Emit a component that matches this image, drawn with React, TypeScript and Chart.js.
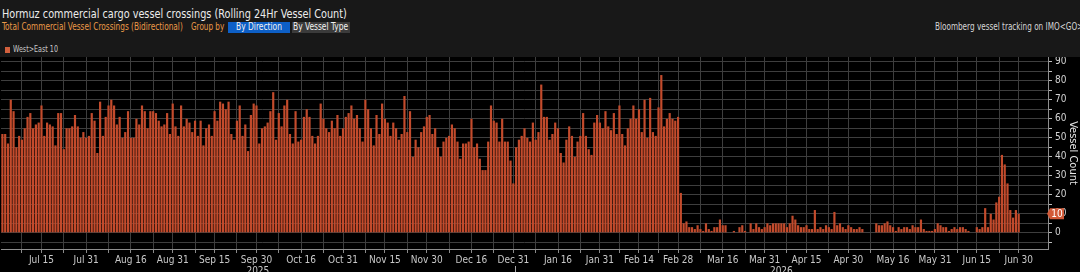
import React, { useEffect, useLayoutEffect, useRef } from 'react';
import { Chart, registerables } from 'chart.js';

Chart.register(...registerables);

const FONT = '"Liberation Sans Narrow", "Arial Narrow", "DejaVu Sans Condensed", "Liberation Sans", Arial, sans-serif';

// Rolling 24h West>East commercial vessel crossings, daily, 1 Jul 2025 – 30 Jun 2026
const firstDay = [2025, 6, 1];
const emptyDaysAfter = 10;

const jul2025 = [52,52,47,70,64,45,51,49,55,61,63,55,57,58,67,51,58,57,56,46,63,63,44,55,55,56,62,56,50,53,50];
const aug2025 = [51,63,59,42,69,51,61,67,70,67,57,61,50,53,64,50,50,60,57,67,64,55,64,64,63,59,56,57,63,52,68];
const sep2025 = [56,51,67,56,60,58,53,59,51,59,46,55,57,51,64,59,69,68,65,69,52,49,59,67,51,57,43,62,68,67];
const oct2025 = [47,55,56,58,64,74,49,63,56,67,70,52,47,64,48,49,61,65,61,51,47,51,68,60,55,53,59,55,62,51,55];
const nov2025 = [61,63,67,60,62,55,48,70,65,55,46,62,52,68,60,58,51,58,55,49,52,72,53,64,40,49,45,53,56,61];
const dec2025 = [62,52,55,45,40,48,50,51,57,55,48,39,47,47,48,60,45,47,39,33,33,48,67,59,58,48,60,48,48,38,26];
const jan2026 = [45,49,51,55,50,48,58,49,53,78,61,61,49,52,58,55,42,37,49,56,51,40,48,51,63,51,44,41,58,62,58];
const feb2026 = [55,64,56,54,63,52,67,52,46,55,60,67,60,65,53,70,50,71,53,51,66,83,56,60,63,60,59,61];
const mar2026 = [21,5,6,3,3,2,4,2,1,5,2,1,3,3,7,4,4,0,0,1,0,3,4,1,0,5,2,5,3,2,3];
const apr2026 = [5,4,5,5,5,5,5,3,5,9,7,4,3,3,4,2,2,12,2,3,2,4,3,2,11,4,5,3,2,4];
const may2026 = [3,2,2,3,2,0,0,0,0,5,4,4,5,6,4,3,1,3,2,3,3,2,4,3,3,7,2,1,1,1,2];
const jun2026 = [5,4,3,3,1,2,3,2,3,3,2,1,0,0,3,2,3,13,3,10,7,16,19,41,36,26,12,8,12,10];

const tickDates = [
  '2025-07-15','2025-07-31','2025-08-16','2025-08-31','2025-09-15','2025-09-30',
  '2025-10-16','2025-10-31','2025-11-15','2025-11-30','2025-12-16','2025-12-31',
  '2026-01-16','2026-01-31','2026-02-14','2026-02-28','2026-03-16','2026-03-31',
  '2026-04-15','2026-04-30','2026-05-16','2026-05-31','2026-06-15','2026-06-30',
];
const yearLabels = ['2025', '2026'];
const yearStart2026 = '2026-01-01';
const seriesName = 'West>East';

const MONTHS = ['Jan','Feb','Mar','Apr','May','Jun','Jul','Aug','Sep','Oct','Nov','Dec'];

const values: (number | null)[] = [
  ...jul2025, ...aug2025, ...sep2025, ...oct2025, ...nov2025, ...dec2025,
  ...jan2026, ...feb2026, ...mar2026, ...apr2026, ...may2026, ...jun2026,
];
const lastValue = values[values.length - 1] as number;
const totalDays = values.length + emptyDaysAfter;
const dayKeys: string[] = [];
const dayNames: string[] = [];
for (let i = 0; i < totalDays; i++) {
  const d = new Date(Date.UTC(firstDay[0], firstDay[1], firstDay[2]) + i * 86400000);
  dayKeys.push(d.toISOString().slice(0, 10));
  dayNames.push(MONTHS[d.getUTCMonth()] + ' ' + d.getUTCDate());
}
const data: (number | null)[] = [...values, ...Array(emptyDaysAfter).fill(null)];

const tickIdx = tickDates.map((t) => dayKeys.indexOf(t));
const labelIdx = new Set(tickIdx);
const gridIdx = new Set<number>(tickIdx);
gridIdx.add(tickIdx[0] - 7);
for (let k = 0; k < tickIdx.length - 1; k++) gridIdx.add(Math.round((tickIdx[k] + tickIdx[k + 1]) / 2));

const GRID = '#3e3e3e';
const AXIS = '#8e8e8e';
const BAR = '#c34b2c';

const isTen = (v: number) => v >= 0 && Math.abs(v / 10 - Math.round(v / 10)) < 1e-6;

const overlayPlugin = {
  id: 'overlay',
  afterDraw(chart: any) {
    const { ctx } = chart;
    const x = chart.scales.x;
    const y = chart.scales.y;
    const step = x.getPixelForValue(1) - x.getPixelForValue(0);
    const janIdx = dayKeys.indexOf(yearStart2026);
    const boundary = x.getPixelForValue(janIdx) - step / 2;
    ctx.save();
    ctx.strokeStyle = '#a8a8a8';
    ctx.lineWidth = 1;
    ctx.beginPath();
    ctx.moveTo(Math.round(boundary) + 0.5, 266);
    ctx.lineTo(Math.round(boundary) + 0.5, 272);
    ctx.stroke();
    ctx.font = `10px ${FONT}`;
    ctx.fillStyle = '#c8c8c8';
    ctx.textAlign = 'center';
    ctx.textBaseline = 'top';
    ctx.fillText(yearLabels[0], (x.left + boundary) / 2, 266.5);
    ctx.fillText(yearLabels[1], (boundary + x.right) / 2, 266.5);

    const py = y.getPixelForValue(lastValue);
    const l = y.left - 1;
    ctx.fillStyle = '#d25a38';
    ctx.beginPath();
    ctx.moveTo(l, py);
    ctx.lineTo(l + 3, py - 5.5);
    ctx.lineTo(l + 17, py - 5.5);
    ctx.lineTo(l + 17, py + 5.5);
    ctx.lineTo(l + 3, py + 5.5);
    ctx.closePath();
    ctx.fill();
    ctx.fillStyle = '#ffffff';
    ctx.font = `10px ${FONT}`;
    ctx.textBaseline = 'middle';
    ctx.fillText(String(lastValue), l + 10, py + 0.5);
    ctx.restore();
  },
};

function Fit({ w, style, children }: { w: number; style: React.CSSProperties; children: React.ReactNode }) {
  const ref = useRef<HTMLSpanElement>(null);
  useLayoutEffect(() => {
    const el = ref.current;
    if (!el) return;
    el.style.transform = '';
    const actual = el.offsetWidth;
    if (actual > 0) el.style.transform = `scaleX(${w / actual})`;
  }, [w]);
  return (
    <span
      ref={ref}
      style={{ position: 'absolute', display: 'inline-block', whiteSpace: 'nowrap', transformOrigin: '0 0', ...style }}
    >
      {children}
    </span>
  );
}

export default function App() {
  const canvasRef = useRef<HTMLCanvasElement>(null);

  useEffect(() => {
    if (!canvasRef.current) return;
    const chart = new Chart(canvasRef.current, {
      type: 'bar',
      data: {
        labels: dayKeys,
        datasets: [
          {
            label: seriesName,
            data,
            backgroundColor: BAR,
            borderWidth: 0,
            barPercentage: 0.78,
            categoryPercentage: 1,
          },
        ],
      },
      options: {
        responsive: false,
        animation: false,
        devicePixelRatio: 1,
        layout: { padding: { top: 57, left: 1, right: 0, bottom: 0 } },
        plugins: { legend: { display: false }, tooltip: { enabled: false } },
        scales: {
          x: {
            type: 'category',
            offset: true,
            grid: {
              offset: false,
              drawTicks: true,
              tickLength: 4,
              color: (c: any) => (gridIdx.has(c.index) ? GRID : 'rgba(0,0,0,0)'),
              tickColor: (c: any) => (gridIdx.has(c.index) ? '#8a8a8a' : 'rgba(0,0,0,0)'),
            },
            border: { color: AXIS, width: 1 },
            ticks: {
              autoSkip: false,
              maxRotation: 0,
              minRotation: 0,
              padding: 1,
              color: '#c8c8c8',
              font: { family: FONT, size: 10 },
              callback: (_v: any, i: number) => (labelIdx.has(i) ? dayNames[i] : ''),
            },
            afterFit: (s: any) => {
              s.height = 23;
            },
          },
          y: {
            position: 'right',
            min: -8.5,
            max: 92.5,
            grid: {
              drawTicks: true,
              tickLength: 4,
              color: GRID,
              tickColor: '#bdbdbd',
            },
            border: { color: AXIS, width: 1 },
            ticks: {
              autoSkip: false,
              includeBounds: false,
              stepSize: 5,
              padding: 3,
              color: '#d4d4d4',
              font: { family: FONT, size: 10 },
              callback: (v: any) => (isTen(Number(v)) ? String(Math.round(Number(v))) : ''),
            },
            title: {
              display: true,
              text: 'Vessel Count',
              color: '#e6e6e6',
              font: { family: FONT, size: 11 },
              padding: { top: 1, bottom: 0 },
            },
            afterFit: (s: any) => {
              s.width = 32;
            },
          },
        },
      },
      plugins: [overlayPlugin],
    } as any);
    return () => chart.destroy();
  }, []);

  return (
    <div
      style={{
        position: 'fixed',
        left: 0,
        top: 0,
        width: 1080,
        height: 272,
        background: '#000',
        overflow: 'hidden',
        fontFamily: FONT,
      }}
    >
      <canvas ref={canvasRef} width={1080} height={272} style={{ position: 'absolute', left: 0, top: 0, width: 1080, height: 272 }} />
      <div style={{ position: 'absolute', left: 0, top: 0, width: 1080, height: 57, background: '#181818' }}>
        <Fit w={345} style={{ left: 2, top: 7, fontSize: 13, lineHeight: '13px', color: '#ececec' }}>
          Hormuz commercial cargo vessel crossings (Rolling 24Hr Vessel Count)
        </Fit>
        <Fit w={181} style={{ left: 2, top: 22, fontSize: 10, lineHeight: '10px', color: '#eb9a48' }}>
          Total Commercial Vessel Crossings (Bidirectional)
        </Fit>
        <Fit w={33} style={{ left: 191, top: 22, fontSize: 10, lineHeight: '10px', color: '#eb9a48' }}>
          Group by
        </Fit>
        <div style={{ position: 'absolute', left: 228, top: 22, width: 62, height: 10.5, background: '#0d5fc6' }} />
        <Fit w={46} style={{ left: 236, top: 22, fontSize: 10, lineHeight: '10px', color: '#f2f2f2' }}>
          By Direction
        </Fit>
        <div style={{ position: 'absolute', left: 292, top: 22, width: 58, height: 10.5, background: '#3b3b3b' }} />
        <Fit w={55} style={{ left: 293, top: 22, fontSize: 10, lineHeight: '10px', color: '#f2f2f2' }}>
          By Vessel Type
        </Fit>
        <Fit w={148} style={{ left: 935, top: 22, fontSize: 10, lineHeight: '10px', color: '#d6d6d6' }}>
          Bloomberg vessel tracking on IMO&lt;GO&gt;
        </Fit>
        <div style={{ position: 'absolute', left: 5, top: 47, width: 5, height: 6, background: '#d2603d' }} />
        <Fit w={45} style={{ left: 13, top: 45, fontSize: 9, lineHeight: '9px', color: '#c8c8c8' }}>
          {seriesName} {lastValue}
        </Fit>
      </div>
    </div>
  );
}
